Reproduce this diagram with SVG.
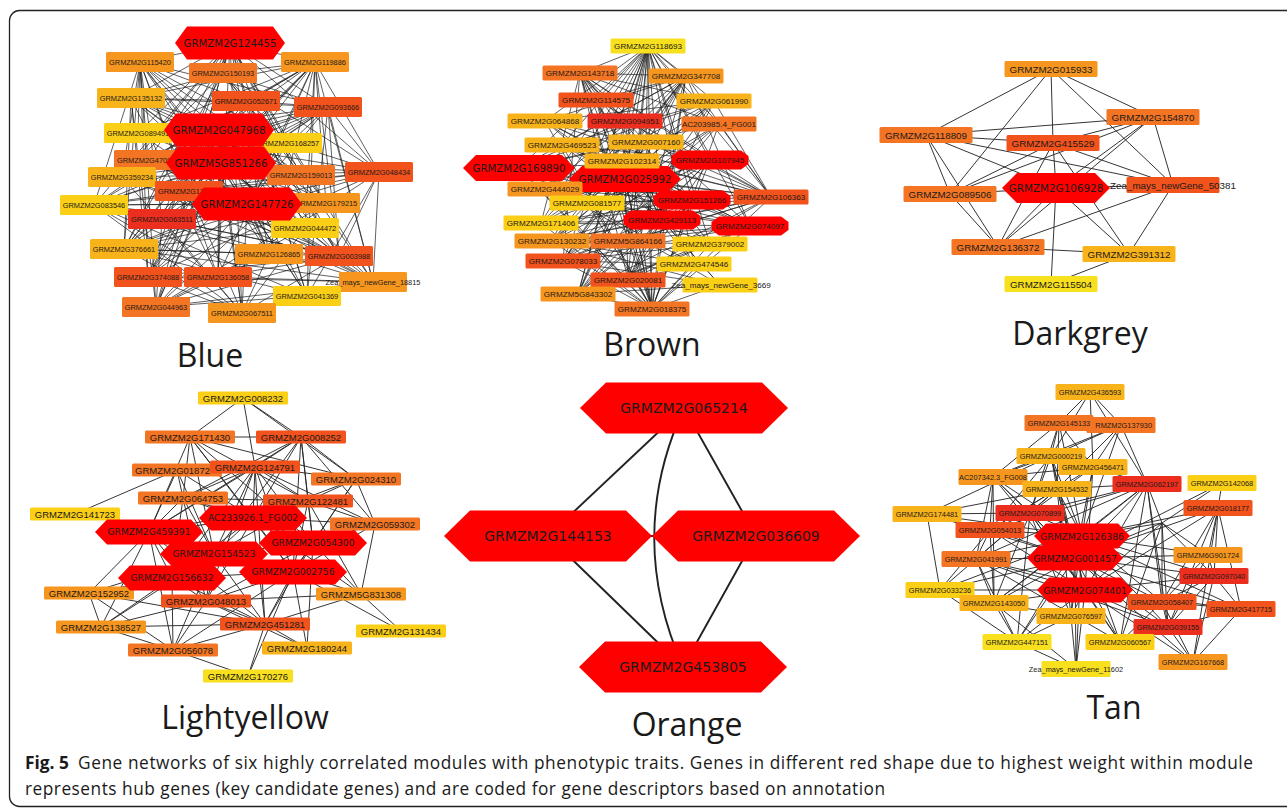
<svg xmlns="http://www.w3.org/2000/svg" width="1287" height="808" viewBox="0 0 1287 808">
<style>
.e{fill:none;stroke:#1c1c1c;stroke-width:.7}
.e2{fill:none;stroke:#2a2a2a;stroke-width:.95}
.e3{fill:none;stroke:#222;stroke-width:1.9}
.hub{fill:#ff0000}
.c1{fill:#ec2e1e}.c2{fill:#f2521c}.c3{fill:#f37524}.c4{fill:#f7961e}.c5{fill:#f9b31a}.c6{fill:#fbcf16}.c7{fill:#f8e01e}
text{fill:#1a1a1a;dominant-baseline:central;text-anchor:middle}
.tb{font:7.4px "Liberation Sans",Arial,sans-serif}
.tr{font:8.1px "Liberation Sans",Arial,sans-serif}
.td{font:9.8px "Liberation Sans",Arial,sans-serif}
.tl{font:9.5px "Liberation Sans",Arial,sans-serif}
.ht{font-family:"DejaVu Sans",Verdana,sans-serif}
.st{text-anchor:start}
.en{text-anchor:end}
.title{font:32px "Open Sans",sans-serif;dominant-baseline:auto}
.cap{font:17.3px "Open Sans",sans-serif;dominant-baseline:auto;text-anchor:start}
.capb{font-weight:bold}
</style>
<defs>
<polygon id="hexB" points="-55,0 -43,-16.5 43,-16.5 55,0 43,16.5 -43,16.5"/>
<polygon id="hexR" points="-56,0 -43,-13 43,-13 56,0 43,13 -43,13"/>
<polygon id="octR" points="-38.5,-4 -31,-9.5 31,-9.5 38.5,-4 38.5,4 31,9.5 -31,9.5 -38.5,4"/>
<polygon id="hexD" points="-54,0 -39,-15 39,-15 54,0 39,15 -39,15"/>
<polygon id="hexO" points="-104,0 -78,-25.5 78,-25.5 104,0 78,25.5 -78,25.5"/>
<polygon id="hexL" points="-54,0 -42,-12.5 42,-12.5 54,0 42,12.5 -42,12.5"/>
<polygon id="hexT" points="-48,0 -36,-12.5 36,-12.5 48,0 36,12.5 -36,12.5"/>
</defs>
<rect x="9.5" y="10.5" width="1300" height="796" rx="10" fill="#fff" stroke="#222" stroke-width="1.3"/>

<g id="connectors">
<g id="blue-edges">
<path class="e" d="M230 43L140 62M230 43L223 73M230 43L315 62M230 43L131 98M230 43L246 101M230 43L328 107M230 43L138 133M230 43L288 143M230 43L148 160M230 43L122 177M230 43L301 175M230 43L379 172M230 43L189 191M230 43L326 203M230 43L94 205M230 43L162 219M230 43L305 228M230 43L124 249M230 43L269 254M230 43L339 256M230 43L148 277M230 43L218 277M230 43L307 296M230 43L156 307M230 43L242 313"/>
<path class="e" d="M140 62L246 101M140 62L328 107M140 62L288 143M140 62L301 175M140 62L189 191M140 62L94 205M140 62L162 219M140 62L124 249M140 62L148 277M140 62L218 277M140 62L156 307M140 62L269 254M140 62L305 228M140 62L122 177M140 62L148 160M140 62L138 133"/>
<path class="e" d="M315 62L223 73M315 62L131 98M315 62L246 101M315 62L138 133M315 62L148 160M315 62L122 177M315 62L379 172M315 62L189 191M315 62L326 203M315 62L162 219M315 62L305 228M315 62L269 254M315 62L339 256M315 62L373 282M315 62L307 296M315 62L218 277M315 62L124 249M315 62L148 277"/>
<path class="e" d="M223 73L131 98M223 73L328 107M223 73L288 143M223 73L301 175M223 73L379 172M223 73L326 203M223 73L124 249M223 73L339 256M223 73L122 177"/>
<path class="e" d="M131 98L246 101M131 98L328 107M131 98L288 143M131 98L301 175M131 98L326 203M131 98L305 228M131 98L148 277M131 98L156 307M131 98L124 249M131 98L218 277"/>
<path class="e" d="M328 107L138 133M328 107L148 160M328 107L122 177M328 107L189 191M328 107L94 205M328 107L162 219M328 107L124 249M328 107L148 277M328 107L339 256M328 107L373 282M328 107L307 296M328 107L246 101"/>
<path class="e" d="M379 172L138 133M379 172L148 160M379 172L122 177M379 172L189 191M379 172L94 205M379 172L162 219M379 172L124 249M379 172L148 277M379 172L218 277M379 172L339 256M379 172L373 282M379 172L307 296M379 172L288 143M379 172L328 107"/>
<path class="e" d="M219 130L122 177M219 130L301 175M219 130L326 203M219 130L94 205M219 130L162 219M219 130L305 228M219 130L124 249M219 130L269 254M219 130L339 256M219 130L148 277M219 130L218 277M219 130L373 282M219 130L307 296M219 130L156 307M219 130L242 313M219 130L140 62M219 130L315 62M219 130L131 98M219 130L328 107"/>
<path class="e" d="M221 163L140 62M221 163L315 62M221 163L131 98M221 163L328 107M221 163L138 133M221 163L288 143M221 163L122 177M221 163L326 203M221 163L94 205M221 163L305 228M221 163L124 249M221 163L269 254M221 163L339 256M221 163L148 277M221 163L218 277M221 163L373 282M221 163L307 296M221 163L156 307M221 163L242 313"/>
<path class="e" d="M247 204L140 62M247 204L315 62M247 204L131 98M247 204L328 107M247 204L138 133M247 204L148 160M247 204L122 177M247 204L94 205M247 204L162 219M247 204L124 249M247 204L269 254M247 204L339 256M247 204L148 277M247 204L373 282M247 204L307 296M247 204L156 307M247 204L242 313M247 204L288 143"/>
<path class="e" d="M94 205L288 143M94 205L301 175M94 205L326 203M94 205L305 228M94 205L269 254M94 205L218 277M94 205L307 296M94 205L242 313M94 205L339 256"/>
<path class="e" d="M124 249L301 175M124 249L326 203M124 249L305 228M124 249L269 254M124 249L339 256M124 249L373 282M124 249L307 296M124 249L242 313"/>
<path class="e" d="M156 307L301 175M156 307L326 203M156 307L305 228M156 307L269 254M156 307L339 256M156 307L373 282M156 307L307 296M156 307L162 219"/>
<path class="e" d="M242 313L122 177M242 313L189 191M242 313L162 219M242 313L305 228M242 313L269 254M242 313L339 256M242 313L373 282M242 313L307 296M242 313L148 277"/>
<path class="e" d="M373 282L148 277M373 282L218 277M373 282L162 219M373 282L189 191M373 282L122 177M373 282L148 160M373 282L288 143M373 282L301 175"/>
<path class="e" d="M339 256L148 277M339 256L218 277M339 256L162 219M339 256L189 191M339 256L148 160M339 256L122 177"/>
<path class="e" d="M246 101L122 177M246 101L94 205M246 101L124 249M246 101L148 277M246 101L156 307M246 101L307 296M246 101L339 256"/>
</g>
<g id="brown-edges">
<path class="e" d="M648 46L580 73M648 46L686 76M648 46L596 100M648 46L714 101M648 46L545 121M648 46L625 121M648 46L719 124M648 46L562 145M648 46L646 142M648 46L622 161M648 46L710 160M648 46L519 168M648 46L625 179M648 46L545 189M648 46L587 203M648 46L692 200M648 46L771 197M648 46L541 223M648 46L662 220M648 46L750 226M648 46L552 241M648 46L628 241M648 46L710 244M648 46L563 261M648 46L694 264M648 46L578 294M648 46L652 309M648 46L628 280"/>
<path class="e" d="M580 73L686 76M580 73L714 101M580 73L625 121M580 73L719 124M580 73L646 142M580 73L710 160M580 73L625 179M580 73L692 200M580 73L771 197M580 73L662 220M580 73L750 226M580 73L628 241M580 73L710 244M580 73L694 264M580 73L628 280M580 73L652 309M580 73L563 261M580 73L541 223"/>
<path class="e" d="M686 76L596 100M686 76L545 121M686 76L562 145M686 76L622 161M686 76L519 168M686 76L625 179M686 76L545 189M686 76L587 203M686 76L541 223M686 76L662 220M686 76L552 241M686 76L563 261M686 76L628 280M686 76L578 294M686 76L652 309M686 76L771 197M686 76L750 226"/>
<path class="e" d="M652 309L596 100M652 309L545 121M652 309L625 121M652 309L719 124M652 309L562 145M652 309L646 142M652 309L622 161M652 309L710 160M652 309L519 168M652 309L625 179M652 309L545 189M652 309L587 203M652 309L692 200M652 309L771 197M652 309L541 223M652 309L662 220M652 309L750 226M652 309L552 241M652 309L628 241M652 309L710 244M652 309L563 261M652 309L694 264M652 309L578 294M652 309L720 285"/>
<path class="e" d="M771 197L545 121M771 197L562 145M771 197L519 168M771 197L545 189M771 197L541 223M771 197L552 241M771 197L563 261M771 197L578 294M771 197L596 100M771 197L625 121M771 197L646 142M771 197L622 161M771 197L625 179M771 197L587 203M771 197L662 220M771 197L628 241M771 197L628 280M771 197L714 101M771 197L719 124"/>
<path class="e" d="M519 168L714 101M519 168L719 124M519 168L646 142M519 168L710 160M519 168L692 200M519 168L662 220M519 168L750 226M519 168L710 244M519 168L694 264M519 168L720 285M519 168L628 280M519 168L625 121"/>
<path class="e" d="M625 179L596 100M625 179L714 101M625 179L545 121M625 179L719 124M625 179L562 145M625 179L710 160M625 179L545 189M625 179L692 200M625 179L541 223M625 179L750 226M625 179L552 241M625 179L710 244M625 179L563 261M625 179L694 264M625 179L628 280M625 179L720 285M625 179L578 294"/>
<path class="e" d="M662 220L596 100M662 220L545 121M662 220L562 145M662 220L625 121M662 220L646 142M662 220L545 189M662 220L587 203M662 220L541 223M662 220L552 241M662 220L563 261M662 220L628 280M662 220L578 294M662 220L720 285"/>
<path class="e" d="M692 200L545 121M692 200L562 145M692 200L545 189M692 200L541 223M692 200L552 241M692 200L563 261M692 200L578 294M692 200L628 280M692 200L587 203"/>
<path class="e" d="M710 160L545 121M710 160L562 145M710 160L545 189M710 160L541 223M710 160L552 241M710 160L563 261M710 160L578 294M710 160L628 280M710 160L587 203M710 160L628 241"/>
<path class="e" d="M750 226L545 121M750 226L562 145M750 226L545 189M750 226L541 223M750 226L552 241M750 226L563 261M750 226L578 294M750 226L628 280M750 226L587 203M750 226L628 241M750 226L622 161"/>
<path class="e" d="M714 101L545 121M714 101L562 145M714 101L545 189M714 101L541 223M714 101L552 241M714 101L563 261M714 101L578 294M714 101L628 280"/>
<path class="e" d="M578 294L625 121M578 294L719 124M578 294L646 142M578 294L710 244M578 294L694 264M578 294L720 285"/>
<path class="e" d="M563 261L719 124M563 261L646 142M563 261L710 244M563 261L694 264M563 261L720 285"/>
<path class="e" d="M552 241L719 124M552 241L646 142M552 241L710 244M552 241L694 264M552 241L720 285"/>
</g>
<g id="darkgrey-edges">
<path class="e2" d="M1051 69L926 135M1051 69L950 194M1051 69L1053 143M1051 69L1153 117M1051 69L1173 185M1153 117L926 135M1153 117L1053 143M1153 117L950 194M1153 117L1056 188M1153 117L998 247M1153 117L1173 185M926 135L1053 143M926 135L1173 185M926 135L950 194M926 135L998 247M926 135L1056 188M1053 143L950 194M1053 143L998 247M1053 143L1056 188M1053 143L1129 254M1053 143L1173 185M950 194L1056 188M950 194L998 247M1056 188L998 247M1056 188L1129 254M1056 188L1051 284M1056 188L1173 185M1173 185L998 247M1173 185L1129 254M998 247L1129 254M1129 254L1051 284"/>
</g>
<g id="orange-edges">
<path class="e3" d="M684 408L548 536M684 408L756 536M548 536L756 536M548 536L683 667M756 536L683 667M684 408Q625 536 683 667"/>
</g>
<g id="lightyellow-edges">
<path class="e2" d="M243 398L190 437M243 398L255 467M243 398L356 479M243 398L301 437M190 437L301 437M190 437L183 498M190 437L149 532M190 437L253 518M190 437L214 554M190 437L313 543M190 437L308 501M190 437L356 479M190 437L293 572M301 437L255 467M301 437L183 498M301 437L253 518M301 437L149 532M301 437L214 554M301 437L356 479M301 437L308 501M301 437L375 524M301 437L313 543M301 437L293 572M177 470L75 514M177 470L183 498M177 470L253 518M177 470L214 554M177 470L149 532"/>
<path class="e2" d="M255 467L356 479M255 467L183 498M255 467L308 501M255 467L253 518M255 467L149 532M255 467L313 543M255 467L214 554M255 467L172 578M255 467L293 572M255 467L206 601M255 467L265 624M255 467L375 524M356 479L308 501M356 479L313 543M356 479L293 572M356 479L375 524M356 479L253 518M183 498L308 501M183 498L253 518M183 498L149 532M183 498L313 543M183 498L214 554M183 498L172 578M183 498L206 601M308 501L253 518M308 501L149 532M308 501L214 554M308 501L313 543M308 501L293 572M308 501L361 594M308 501L375 524"/>
<path class="e2" d="M253 518L149 532M253 518L313 543M253 518L214 554M253 518L172 578M253 518L293 572M253 518L206 601M253 518L265 624M253 518L361 594M253 518L375 524M375 524L313 543M375 524L293 572M375 524L361 594M149 532L214 554M149 532L172 578M149 532L89 593M149 532L206 601M149 532L101 627M149 532L265 624M149 532L173 650M313 543L214 554M313 543L293 572M313 543L206 601M313 543L361 594M313 543L265 624M313 543L307 648"/>
<path class="e2" d="M214 554L172 578M214 554L293 572M214 554L206 601M214 554L265 624M214 554L173 650M214 554L101 627M214 554L89 593M172 578L293 572M172 578L89 593M172 578L206 601M172 578L101 627M172 578L265 624M172 578L173 650M293 572L206 601M293 572L361 594M293 572L265 624M293 572L401 631M293 572L307 648M293 572L248 676M293 572L173 650M89 593L101 627M89 593L173 650M89 593L265 624M206 601L361 594M206 601L101 627M206 601L265 624M206 601L173 650M206 601L307 648M361 594L265 624M361 594L401 631M101 627L173 650M101 627L265 624M265 624L173 650M265 624L307 648M265 624L248 676M173 650L248 676"/>
</g>
<g id="tan-edges">
<path class="e2" d="M1090 392L1059 423M1090 392L1121 425M1090 392L1093 467M1090 392L1147 484M1090 392L1051 456M1059 423L1051 456M1059 423L1093 467M1059 423L1057 489M1059 423L1030 513M1059 423L993 477M1059 423L1082 536M1121 425L1051 456M1121 425L1093 467M1121 425L993 477M1121 425L1057 489M1121 425L1147 484M1121 425L1082 536M1051 456L993 477M1051 456L927 514M1051 456L1057 489M1051 456L1030 513M1051 456L1082 536M1051 456L1075 558M1051 456L1085 590M1051 456L990 530M1093 467L993 477M1093 467L1030 513M1093 467L990 530M1093 467L1082 536M1093 467L1075 558M1093 467L1147 484M1093 467L1085 590"/>
<path class="e2" d="M993 477L1057 489M993 477L1030 513M993 477L990 530M993 477L976 559M993 477L1082 536M993 477L1075 558M993 477L1085 590M993 477L994 603M1057 489L927 514M1057 489L1030 513M1057 489L990 530M1057 489L1082 536M1057 489L1075 558M1057 489L1085 590M1057 489L1147 484M1057 489L976 559M1057 489L1071 616M1147 484L1030 513M1147 484L1162 523M1147 484L1082 536M1147 484L1075 558M1147 484L1085 590M1147 484L1162 602M1147 484L1168 627M1147 484L1120 642M1147 484L990 530M1147 484L976 559M1147 484L994 603M1222 483L1218 508M1222 483L1075 558M1222 483L1162 523M927 514L940 590M927 514L1030 513M927 514L1075 558M927 514L990 530M927 514L1082 536"/>
<path class="e2" d="M1030 513L990 530M1030 513L1082 536M1030 513L1075 558M1030 513L1085 590M1030 513L976 559M1030 513L994 603M1030 513L1071 616M1030 513L1120 642M1030 513L1017 642M1218 508L1082 536M1218 508L1075 558M1218 508L1085 590M1218 508L1208 555M1218 508L1214 576M1218 508L1162 602M1218 508L1241 609M1218 508L1168 627M1218 508L1193 662M1162 523L1082 536M1162 523L1075 558M1162 523L1085 590M1162 523L1162 602M1162 523L1168 627M1162 523L1120 642M1162 523L1208 555M1162 523L1214 576M990 530L1082 536M990 530L1075 558M990 530L1085 590M990 530L976 559M990 530L940 590M990 530L994 603"/>
<path class="e2" d="M1082 536L1208 555M1082 536L976 559M1082 536L1214 576M1082 536L940 590M1082 536L994 603M1082 536L1162 602M1082 536L1241 609M1082 536L1071 616M1082 536L1168 627M1082 536L1017 642M1082 536L1120 642M1082 536L1076 669M1208 555L1075 558M1208 555L1162 602M1208 555L1168 627M1208 555L1214 576M976 559L1075 558M976 559L940 590M976 559L1085 590M976 559L994 603M976 559L1162 602M976 559L1168 627M976 559L1017 642M976 559L1120 642"/>
<path class="e2" d="M1075 558L1214 576M1075 558L940 590M1075 558L994 603M1075 558L1162 602M1075 558L1241 609M1075 558L1071 616M1075 558L1168 627M1075 558L1017 642M1075 558L1120 642M1075 558L1076 669M1075 558L1193 662M1214 576L1085 590M1214 576L1162 602M1214 576L1193 662M1214 576L1168 627M1214 576L1241 609M940 590L1085 590M940 590L994 603M940 590L1017 642M1085 590L994 603M1085 590L1162 602M1085 590L1241 609M1085 590L1071 616M1085 590L1168 627M1085 590L1017 642M1085 590L1120 642M1085 590L1193 662M1085 590L1076 669M994 603L1017 642M994 603L1076 669M994 603L1071 616M1162 602L1168 627M1162 602L1193 662M1162 602L1120 642M1162 602L1241 609M1241 609L1193 662M1241 609L1168 627M1071 616L1076 669M1071 616L1017 642M1168 627L1193 662M1017 642L1076 669"/>
</g>
</g>

<g id="blue-nodes">
<g id="b-GRMZM2G115420"><rect class="c4" x="106" y="52" width="68" height="20" rx="1.5"/><text class="tb" x="140" y="62">GRMZM2G115420</text></g>
<g id="b-GRMZM2G150193"><rect class="c3" x="189" y="63" width="68" height="20" rx="1.5"/><text class="tb" x="223" y="73">GRMZM2G150193</text></g>
<g id="b-GRMZM2G119886"><rect class="c4" x="281" y="52" width="68" height="20" rx="1.5"/><text class="tb" x="315" y="62">GRMZM2G119886</text></g>
<g id="b-GRMZM2G135132"><rect class="c5" x="97" y="88" width="68" height="20" rx="1.5"/><text class="tb" x="131" y="98">GRMZM2G135132</text></g>
<g id="b-GRMZM2G052671"><rect class="c2" x="212" y="91" width="68" height="20" rx="1.5"/><text class="tb" x="246" y="101">GRMZM2G052671</text></g>
<g id="b-GRMZM2G093666"><rect class="c2" x="294" y="97" width="68" height="20" rx="1.5"/><text class="tb" x="328" y="107">GRMZM2G093666</text></g>
<g id="b-GRMZM2G089491"><rect class="c6" x="104" y="123" width="68" height="20" rx="1.5"/><text class="tb" x="138" y="133">GRMZM2G089491</text></g>
<g id="b-GRMZM2G168257"><rect class="c6" x="254" y="133" width="68" height="20" rx="1.5"/><text class="tb" x="288" y="143">GRMZM2G168257</text></g>
<g id="b-GRMZM2G47088"><rect class="c3" x="114" y="150" width="68" height="20" rx="1.5"/><text class="tb st" x="117" y="160">GRMZM2G47088</text></g>
<g id="b-GRMZM2G359234"><rect class="c5" x="88" y="167" width="68" height="20" rx="1.5"/><text class="tb" x="122" y="177">GRMZM2G359234</text></g>
<g id="b-GRMZM2G159013"><rect class="c3" x="267" y="165" width="68" height="20" rx="1.5"/><text class="tb" x="301" y="175">GRMZM2G159013</text></g>
<g id="b-GRMZM2G048434"><rect class="c2" x="345" y="162" width="68" height="20" rx="1.5"/><text class="tb" x="379" y="172">GRMZM2G048434</text></g>
<g id="b-GRMZM2G13144"><rect class="c2" x="155" y="181" width="68" height="20" rx="1.5"/><text class="tb st" x="158" y="191">GRMZM2G13144</text></g>
<g id="b-GRMZM2G179215"><rect class="c4" x="292" y="193" width="68" height="20" rx="1.5"/><text class="tb" x="326" y="203">GRMZM2G179215</text></g>
<g id="b-GRMZM2G083546"><rect class="c6" x="60" y="195" width="68" height="20" rx="1.5"/><text class="tb" x="94" y="205">GRMZM2G083546</text></g>
<g id="b-GRMZM2G063511"><rect class="c1" x="128" y="209" width="68" height="20" rx="1.5"/><text class="tb" x="162" y="219">GRMZM2G063511</text></g>
<g id="b-GRMZM2G044472"><rect class="c6" x="271" y="218" width="68" height="20" rx="1.5"/><text class="tb" x="305" y="228">GRMZM2G044472</text></g>
<g id="b-GRMZM2G376661"><rect class="c5" x="90" y="239" width="68" height="20" rx="1.5"/><text class="tb" x="124" y="249">GRMZM2G376661</text></g>
<g id="b-GRMZM2G126865"><rect class="c4" x="235" y="244" width="68" height="20" rx="1.5"/><text class="tb" x="269" y="254">GRMZM2G126865</text></g>
<g id="b-GRMZM2G003988"><rect class="c2" x="305" y="246" width="68" height="20" rx="1.5"/><text class="tb" x="339" y="256">GRMZM2G003988</text></g>
<g id="b-GRMZM2G374088"><rect class="c2" x="114" y="267" width="68" height="20" rx="1.5"/><text class="tb" x="148" y="277">GRMZM2G374088</text></g>
<g id="b-GRMZM2G136058"><rect class="c2" x="184" y="267" width="68" height="20" rx="1.5"/><text class="tb" x="218" y="277">GRMZM2G136058</text></g>
<g id="b-Zea_mays_newGene_18815"><rect class="c4" x="339" y="272" width="68" height="20" rx="1.5"/><text class="tb" x="373" y="282">Zea_mays_newGene_18815</text></g>
<g id="b-GRMZM2G041369"><rect class="c6" x="273" y="286" width="68" height="20" rx="1.5"/><text class="tb" x="307" y="296">GRMZM2G041369</text></g>
<g id="b-GRMZM2G044963"><rect class="c3" x="122" y="297" width="68" height="20" rx="1.5"/><text class="tb" x="156" y="307">GRMZM2G044963</text></g>
<g id="b-GRMZM2G067511"><rect class="c4" x="208" y="303" width="68" height="20" rx="1.5"/><text class="tb" x="242" y="313">GRMZM2G067511</text></g>
<g id="b-GRMZM2G124455"><use href="#hexB" x="230" y="43" class="hub"/><text class="ht" x="230" y="43" font-size="10.2">GRMZM2G124455</text></g>
<g id="b-GRMZM2G047968"><use href="#hexB" x="219" y="130" class="hub"/><text class="ht" x="219" y="130" font-size="10.2">GRMZM2G047968</text></g>
<g id="b-GRMZM5G851266"><use href="#hexB" x="221" y="163" class="hub"/><text class="ht" x="221" y="163" font-size="10.2">GRMZM5G851266</text></g>
<g id="b-GRMZM2G147726"><use href="#hexB" x="247" y="204" class="hub"/><text class="ht" x="247" y="204" font-size="10.2">GRMZM2G147726</text></g>
</g>

<g id="brown-nodes">
<g id="r-GRMZM2G169890"><use href="#hexR" x="519" y="168" class="hub"/><text class="ht" x="519" y="168" font-size="10.2">GRMZM2G169890</text></g>
<g id="r-GRMZM2G025992"><use href="#hexR" x="625" y="179" class="hub"/><text class="ht" x="625" y="179" font-size="10.2">GRMZM2G025992</text></g>
<g id="r-GRMZM2G107945"><use href="#octR" x="710" y="160" class="hub"/><text class="tr" x="710" y="160">GRMZM2G107945</text></g>
<g id="r-GRMZM2G151266"><use href="#octR" x="692" y="200" class="hub"/><text class="tr" x="692" y="200">GRMZM2G151266</text></g>
<g id="r-GRMZM2G429113"><use href="#octR" x="662" y="220" class="hub"/><text class="tr" x="662" y="220">GRMZM2G429113</text></g>
<g id="r-GRMZM2G074097"><use href="#octR" x="750" y="226" class="hub"/><text class="tr" x="750" y="226">GRMZM2G074097</text></g>
<g id="r-GRMZM2G118693"><rect class="c7" x="610.5" y="38.5" width="75" height="15" rx="1.5"/><text class="tr" x="648" y="46">GRMZM2G118693</text></g>
<g id="r-GRMZM2G143718"><rect class="c3" x="542.5" y="65.5" width="75" height="15" rx="1.5"/><text class="tr" x="580" y="73">GRMZM2G143718</text></g>
<g id="r-GRMZM2G347708"><rect class="c4" x="648.5" y="68.5" width="75" height="15" rx="1.5"/><text class="tr" x="686" y="76">GRMZM2G347708</text></g>
<g id="r-GRMZM2G114575"><rect class="c2" x="558.5" y="92.5" width="75" height="15" rx="1.5"/><text class="tr" x="596" y="100">GRMZM2G114575</text></g>
<g id="r-GRMZM2G061990"><rect class="c5" x="676.5" y="93.5" width="75" height="15" rx="1.5"/><text class="tr" x="714" y="101">GRMZM2G061990</text></g>
<g id="r-GRMZM2G064868"><rect class="c5" x="507.5" y="113.5" width="75" height="15" rx="1.5"/><text class="tr" x="545" y="121">GRMZM2G064868</text></g>
<g id="r-GRMZM2G094951"><rect class="c1" x="587.5" y="113.5" width="75" height="15" rx="1.5"/><text class="tr" x="625" y="121">GRMZM2G094951</text></g>
<g id="r-AC203985.4_FG001"><rect class="c3" x="681.5" y="116.5" width="75" height="15" rx="1.5"/><text class="tr" x="719" y="124">AC203985.4_FG001</text></g>
<g id="r-GRMZM2G469523"><rect class="c5" x="524.5" y="137.5" width="75" height="15" rx="1.5"/><text class="tr" x="562" y="145">GRMZM2G469523</text></g>
<g id="r-GRMZM2G007160"><rect class="c5" x="608.5" y="134.5" width="75" height="15" rx="1.5"/><text class="tr" x="646" y="142">GRMZM2G007160</text></g>
<g id="r-GRMZM2G102314"><rect class="c5" x="584.5" y="153.5" width="75" height="15" rx="1.5"/><text class="tr" x="622" y="161">GRMZM2G102314</text></g>
<g id="r-GRMZM2G444029"><rect class="c4" x="507.5" y="181.5" width="75" height="15" rx="1.5"/><text class="tr" x="545" y="189">GRMZM2G444029</text></g>
<g id="r-GRMZM2G081577"><rect class="c6" x="549.5" y="195.5" width="75" height="15" rx="1.5"/><text class="tr" x="587" y="203">GRMZM2G081577</text></g>
<g id="r-GRMZM2G106363"><rect class="c2" x="733.5" y="189.5" width="75" height="15" rx="1.5"/><text class="tr" x="771" y="197">GRMZM2G106363</text></g>
<g id="r-GRMZM2G171406"><rect class="c6" x="503.5" y="215.5" width="75" height="15" rx="1.5"/><text class="tr" x="541" y="223">GRMZM2G171406</text></g>
<g id="r-GRMZM2G130232"><rect class="c4" x="514.5" y="233.5" width="75" height="15" rx="1.5"/><text class="tr" x="552" y="241">GRMZM2G130232</text></g>
<g id="r-GRMZM5G864166"><rect class="c3" x="590.5" y="233.5" width="75" height="15" rx="1.5"/><text class="tr" x="628" y="241">GRMZM5G864166</text></g>
<g id="r-GRMZM2G379002"><rect class="c6" x="672.5" y="236.5" width="75" height="15" rx="1.5"/><text class="tr" x="710" y="244">GRMZM2G379002</text></g>
<g id="r-GRMZM2G078033"><rect class="c2" x="525.5" y="253.5" width="75" height="15" rx="1.5"/><text class="tr" x="563" y="261">GRMZM2G078033</text></g>
<g id="r-GRMZM2G474546"><rect class="c6" x="656.5" y="256.5" width="75" height="15" rx="1.5"/><text class="tr" x="694" y="264">GRMZM2G474546</text></g>
<g id="r-GRMZM2G020081"><rect class="c2" x="590.5" y="272.5" width="75" height="15" rx="1.5"/><text class="tr" x="628" y="280">GRMZM2G020081</text></g>
<g id="r-Zea_mays_newGene_3669"><rect class="c6" x="682.5" y="277.5" width="75" height="15" rx="1.5"/><text class="tr" x="721" y="285">Zea_mays_newGene_3669</text></g>
<g id="r-GRMZM5G843302"><rect class="c4" x="540.5" y="286.5" width="75" height="15" rx="1.5"/><text class="tr" x="578" y="294">GRMZM5G843302</text></g>
<g id="r-GRMZM2G018375"><rect class="c3" x="614.5" y="301.5" width="75" height="15" rx="1.5"/><text class="tr" x="652" y="309">GRMZM2G018375</text></g>
</g>

<g id="darkgrey-nodes">
<g id="d-GRMZM2G015933"><rect class="c4" x="1004.5" y="61" width="93" height="16" rx="1.5"/><text class="td" x="1051" y="69">GRMZM2G015933</text></g>
<g id="d-GRMZM2G154870"><rect class="c3" x="1106.5" y="109" width="93" height="16" rx="1.5"/><text class="td" x="1153" y="117">GRMZM2G154870</text></g>
<g id="d-GRMZM2G118809"><rect class="c3" x="879.5" y="127" width="93" height="16" rx="1.5"/><text class="td" x="926" y="135">GRMZM2G118809</text></g>
<g id="d-GRMZM2G415529"><rect class="c2" x="1006.5" y="135" width="93" height="16" rx="1.5"/><text class="td" x="1053" y="143">GRMZM2G415529</text></g>
<g id="d-GRMZM2G089506"><rect class="c3" x="903.5" y="186" width="93" height="16" rx="1.5"/><text class="td" x="950" y="194">GRMZM2G089506</text></g>
<g id="d-GRMZM2G106928"><use href="#hexD" x="1056" y="188" class="hub"/><text class="ht" x="1056" y="188" font-size="10.4">GRMZM2G106928</text></g>
<g id="d-Zea_mays_newGene_50381"><rect class="c2" x="1126.5" y="177" width="93" height="16" rx="1.5"/><text class="td" x="1173" y="185">Zea_mays_newGene_50381</text></g>
<g id="d-GRMZM2G136372"><rect class="c3" x="951.5" y="239" width="93" height="16" rx="1.5"/><text class="td" x="998" y="247">GRMZM2G136372</text></g>
<g id="d-GRMZM2G391312"><rect class="c5" x="1082.5" y="246" width="93" height="16" rx="1.5"/><text class="td" x="1129" y="254">GRMZM2G391312</text></g>
<g id="d-GRMZM2G115504"><rect class="c7" x="1004.5" y="276" width="93" height="16" rx="1.5"/><text class="td" x="1051" y="284">GRMZM2G115504</text></g>
</g>

<g id="orange-nodes">
<g id="o-GRMZM2G065214"><use href="#hexO" x="684" y="408" class="hub"/><text class="ht" x="684" y="408" font-size="14">GRMZM2G065214</text></g>
<g id="o-GRMZM2G144153"><use href="#hexO" x="548" y="536" class="hub"/><text class="ht" x="548" y="536" font-size="14">GRMZM2G144153</text></g>
<g id="o-GRMZM2G036609"><use href="#hexO" x="756" y="536" class="hub"/><text class="ht" x="756" y="536" font-size="14">GRMZM2G036609</text></g>
<g id="o-GRMZM2G453805"><use href="#hexO" x="683" y="667" class="hub"/><text class="ht" x="683" y="667" font-size="14">GRMZM2G453805</text></g>
</g>

<g id="lightyellow-nodes">
<g id="l-GRMZM2G008232"><rect class="c6" x="198" y="391.5" width="90" height="13" rx="1.5"/><text class="tl" x="243" y="398">GRMZM2G008232</text></g>
<g id="l-GRMZM2G171430"><rect class="c3" x="145" y="430.5" width="90" height="13" rx="1.5"/><text class="tl" x="190" y="437">GRMZM2G171430</text></g>
<g id="l-GRMZM2G008252"><rect class="c2" x="256" y="430.5" width="90" height="13" rx="1.5"/><text class="tl" x="301" y="437">GRMZM2G008252</text></g>
<g id="l-GRMZM2G01872"><rect class="c3" x="132" y="463.5" width="90" height="13" rx="1.5"/><text class="tl st" x="135" y="470">GRMZM2G01872</text></g>
<g id="l-GRMZM2G124791"><rect class="c2" x="210" y="460.5" width="90" height="13" rx="1.5"/><text class="tl" x="255" y="467">GRMZM2G124791</text></g>
<g id="l-GRMZM2G024310"><rect class="c3" x="311" y="472.5" width="90" height="13" rx="1.5"/><text class="tl" x="356" y="479">GRMZM2G024310</text></g>
<g id="l-GRMZM2G064753"><rect class="c3" x="138" y="491.5" width="90" height="13" rx="1.5"/><text class="tl" x="183" y="498">GRMZM2G064753</text></g>
<g id="l-GRMZM2G122481"><rect class="c2" x="263" y="494.5" width="90" height="13" rx="1.5"/><text class="tl" x="308" y="501">GRMZM2G122481</text></g>
<g id="l-GRMZM2G141723"><rect class="c6" x="30" y="507.5" width="90" height="13" rx="1.5"/><text class="tl" x="75" y="514">GRMZM2G141723</text></g>
<g id="l-GRMZM2G059302"><rect class="c3" x="330" y="517.5" width="90" height="13" rx="1.5"/><text class="tl" x="375" y="524">GRMZM2G059302</text></g>
<g id="l-GRMZM2G152952"><rect class="c4" x="44" y="586.5" width="90" height="13" rx="1.5"/><text class="tl" x="89" y="593">GRMZM2G152952</text></g>
<g id="l-GRMZM2G048013"><rect class="c2" x="161" y="594.5" width="90" height="13" rx="1.5"/><text class="tl" x="206" y="601">GRMZM2G048013</text></g>
<g id="l-GRMZM5G831308"><rect class="c4" x="316" y="587.5" width="90" height="13" rx="1.5"/><text class="tl" x="361" y="594">GRMZM5G831308</text></g>
<g id="l-GRMZM2G138527"><rect class="c4" x="56" y="620.5" width="90" height="13" rx="1.5"/><text class="tl" x="101" y="627">GRMZM2G138527</text></g>
<g id="l-GRMZM2G451281"><rect class="c2" x="220" y="617.5" width="90" height="13" rx="1.5"/><text class="tl" x="265" y="624">GRMZM2G451281</text></g>
<g id="l-GRMZM2G131434"><rect class="c6" x="356" y="624.5" width="90" height="13" rx="1.5"/><text class="tl" x="401" y="631">GRMZM2G131434</text></g>
<g id="l-GRMZM2G056078"><rect class="c3" x="128" y="643.5" width="90" height="13" rx="1.5"/><text class="tl" x="173" y="650">GRMZM2G056078</text></g>
<g id="l-GRMZM2G180244"><rect class="c5" x="262" y="641.5" width="90" height="13" rx="1.5"/><text class="tl" x="307" y="648">GRMZM2G180244</text></g>
<g id="l-GRMZM2G170276"><rect class="c7" x="203" y="669.5" width="90" height="13" rx="1.5"/><text class="tl" x="248" y="676">GRMZM2G170276</text></g>
<g id="l-AC233926.1_FG002"><use href="#hexL" x="253" y="518" class="hub"/><text class="ht" x="253" y="518" font-size="9.1">AC233926.1_FG002</text></g>
<g id="l-GRMZM2G459391"><use href="#hexL" x="149" y="532" class="hub"/><text class="ht" x="149" y="532" font-size="9.1">GRMZM2G459391</text></g>
<g id="l-GRMZM2G054300"><use href="#hexL" x="313" y="543" class="hub"/><text class="ht" x="313" y="543" font-size="9.1">GRMZM2G054300</text></g>
<g id="l-GRMZM2G002756"><use href="#hexL" x="293" y="572" class="hub"/><text class="ht" x="293" y="572" font-size="9.1">GRMZM2G002756</text></g>
<g id="l-GRMZM2G154523"><use href="#hexL" x="214" y="554" class="hub"/><text class="ht" x="214" y="554" font-size="9.1">GRMZM2G154523</text></g>
<g id="l-GRMZM2G156632"><use href="#hexL" x="172" y="578" class="hub"/><text class="ht" x="172" y="578" font-size="9.1">GRMZM2G156632</text></g>
</g>

<g id="tan-nodes">
<g id="t-GRMZM2G436593"><rect class="c5" x="1055.5" y="384" width="69" height="16" rx="1.5"/><text class="tb" x="1090" y="392">GRMZM2G436593</text></g>
<g id="t-GRMZM2G137930"><rect class="c3" x="1086.5" y="417" width="69" height="16" rx="1.5"/><text class="tb en" x="1152" y="425">RMZM2G137930</text></g>
<g id="t-GRMZM2G145133"><rect class="c3" x="1024.5" y="415" width="69" height="16" rx="1.5"/><text class="tb" x="1059" y="423">GRMZM2G145133</text></g>
<g id="t-GRMZM2G000219"><rect class="c5" x="1016.5" y="448" width="69" height="16" rx="1.5"/><text class="tb" x="1051" y="456">GRMZM2G000219</text></g>
<g id="t-GRMZM2G456471"><rect class="c5" x="1058.5" y="459" width="69" height="16" rx="1.5"/><text class="tb" x="1093" y="467">GRMZM2G456471</text></g>
<g id="t-AC207342.3_FG008"><rect class="c4" x="958.5" y="469" width="69" height="16" rx="1.5"/><text class="tb" x="993" y="477">AC207342.3_FG008</text></g>
<g id="t-GRMZM2G154532"><rect class="c5" x="1022.5" y="481" width="69" height="16" rx="1.5"/><text class="tb" x="1057" y="489">GRMZM2G154532</text></g>
<g id="t-GRMZM2G062197"><rect class="c1" x="1112.5" y="476" width="69" height="16" rx="1.5"/><text class="tb" x="1147" y="484">GRMZM2G062197</text></g>
<g id="t-GRMZM2G142068"><rect class="c6" x="1187.5" y="475" width="69" height="16" rx="1.5"/><text class="tb" x="1222" y="483">GRMZM2G142068</text></g>
<g id="t-GRMZM2G174481"><rect class="c5" x="892.5" y="506" width="69" height="16" rx="1.5"/><text class="tb" x="927" y="514">GRMZM2G174481</text></g>
<g id="t-GRMZM2G070899"><rect class="c1" x="995.5" y="505" width="69" height="16" rx="1.5"/><text class="tb" x="1030" y="513">GRMZM2G070899</text></g>
<g id="t-GRMZM2G018177"><rect class="c2" x="1183.5" y="500" width="69" height="16" rx="1.5"/><text class="tb" x="1218" y="508">GRMZM2G018177</text></g>
<g id="t-GRMZM2G054013"><rect class="c2" x="955.5" y="522" width="69" height="16" rx="1.5"/><text class="tb" x="990" y="530">GRMZM2G054013</text></g>
<g id="t-GRMZM6G901724"><rect class="c4" x="1173.5" y="547" width="69" height="16" rx="1.5"/><text class="tb" x="1208" y="555">GRMZM6G901724</text></g>
<g id="t-GRMZM2G041991"><rect class="c3" x="941.5" y="551" width="69" height="16" rx="1.5"/><text class="tb" x="976" y="559">GRMZM2G041991</text></g>
<g id="t-GRMZM2G097040"><rect class="c1" x="1179.5" y="568" width="69" height="16" rx="1.5"/><text class="tb" x="1214" y="576">GRMZM2G097040</text></g>
<g id="t-GRMZM2G033236"><rect class="c6" x="905.5" y="582" width="69" height="16" rx="1.5"/><text class="tb" x="940" y="590">GRMZM2G033236</text></g>
<g id="t-GRMZM2G143050"><rect class="c5" x="959.5" y="595" width="69" height="16" rx="1.5"/><text class="tb" x="994" y="603">GRMZM2G143050</text></g>
<g id="t-GRMZM2G058407"><rect class="c2" x="1127.5" y="594" width="69" height="16" rx="1.5"/><text class="tb" x="1162" y="602">GRMZM2G058407</text></g>
<g id="t-GRMZM2G417715"><rect class="c2" x="1206.5" y="601" width="69" height="16" rx="1.5"/><text class="tb" x="1241" y="609">GRMZM2G417715</text></g>
<g id="t-GRMZM2G076597"><rect class="c5" x="1036.5" y="608" width="69" height="16" rx="1.5"/><text class="tb" x="1071" y="616">GRMZM2G076597</text></g>
<g id="t-GRMZM2G039155"><rect class="c1" x="1133.5" y="619" width="69" height="16" rx="1.5"/><text class="tb" x="1168" y="627">GRMZM2G039155</text></g>
<g id="t-GRMZM2G447151"><rect class="c7" x="982.5" y="634" width="69" height="16" rx="1.5"/><text class="tb" x="1017" y="642">GRMZM2G447151</text></g>
<g id="t-GRMZM2G060567"><rect class="c6" x="1085.5" y="634" width="69" height="16" rx="1.5"/><text class="tb" x="1120" y="642">GRMZM2G060567</text></g>
<g id="t-GRMZM2G167668"><rect class="c4" x="1158.5" y="654" width="69" height="16" rx="1.5"/><text class="tb" x="1193" y="662">GRMZM2G167668</text></g>
<g id="t-Zea_mays_newGene_11602"><rect class="c7" x="1041.5" y="661" width="69" height="16" rx="1.5"/><text class="tb" x="1076" y="669">Zea_mays_newGene_11602</text></g>
<g id="t-GRMZM2G126386"><use href="#hexT" x="1082" y="536" class="hub"/><text class="ht" x="1082" y="536" font-size="9.2">GRMZM2G126386</text></g>
<g id="t-GRMZM2G001457"><use href="#hexT" x="1075" y="558" class="hub"/><text class="ht" x="1075" y="558" font-size="9.2">GRMZM2G001457</text></g>
<g id="t-GRMZM2G074401"><use href="#hexT" x="1085" y="590" class="hub"/><text class="ht" x="1085" y="590" font-size="9.2">GRMZM2G074401</text></g>
</g>

<g id="titles">
<text class="title" x="210" y="367">Blue</text>
<text class="title" x="652" y="356">Brown</text>
<text class="title" x="1080" y="345">Darkgrey</text>
<text class="title" x="245" y="729">Lightyellow</text>
<text class="title" x="687" y="736">Orange</text>
<text class="title" x="1114" y="719">Tan</text>
</g>

<g id="caption">
<text class="cap capb" x="25" y="769">Fig. 5</text>
<text class="cap" x="78" y="769" textLength="1175">Gene networks of six highly correlated modules with phenotypic traits. Genes in different red shape due to highest weight within module</text>
<text class="cap" x="25" y="795" textLength="860">represents hub genes (key candidate genes) and are coded for gene descriptors based on annotation</text>
</g>
</svg>
